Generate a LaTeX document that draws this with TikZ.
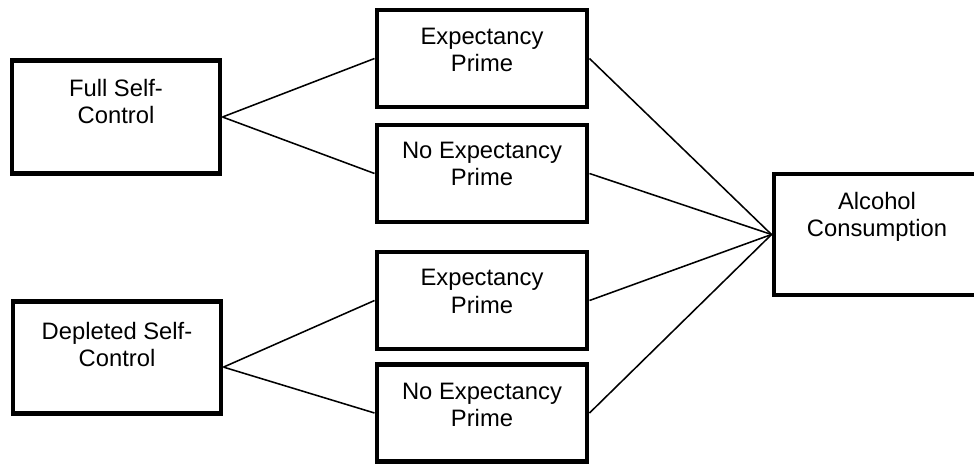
\documentclass[tikz,border=0pt]{standalone}
\usepackage{fontspec}
\setmainfont{Liberation Sans}
\usepackage{xcolor}
\definecolor{boxline}{rgb}{0,0,0}
\usepackage{tikz}
\usetikzlibrary{positioning}

\begin{document}
\begin{tikzpicture}[x=0.025cm, y=-0.025cm,
  box/.style={draw=boxline, line width=3.5pt, rectangle, inner sep=0pt},
  leftbox/.style={box, minimum width=5.2cm, minimum height=2.82cm},
  midbox/.style={box, minimum width=5.25cm, minimum height=2.425cm},
  lbl/.style={align=center, inner sep=0pt, font=\fontsize{16.9}{19.3}\selectfont},
  link/.style={draw=boxline, line width=1.1pt}]
\clip (0,0) rectangle (974,467);
% self-control conditions
\node[leftbox] (full) at (116,117) {};
\node[lbl] (fullt) at (116,101.5) {Full Self-\\Control};
\node[leftbox] (depl) at (117,357.5) {};
\node[lbl] (deplt) at (117,344.5) {Depleted Self-\\Control};
% prime conditions
\node[midbox] (ep1) at (482,58.5) {};
\node[lbl] (ep1t) at (482,50) {Expectancy\\Prime};
\node[midbox] (nep1) at (482,173.5) {};
\node[lbl] (nep1t) at (482,164) {No Expectancy\\Prime};
\node[midbox] (ep2) at (482,300.5) {};
\node[lbl] (ep2t) at (482,291.5) {Expectancy\\Prime};
\node[midbox] (nep2) at (482,413) {};
\node[lbl] (nep2t) at (482,405) {No Expectancy\\Prime};
% outcome (runs off the right edge)
\node[box, minimum width=5.3cm, minimum height=3.025cm] (alc) at (880,234.5) {};
\node[lbl] (alct) at (877,216.5) {Alcohol\\Consumption};
% links
\draw[link] (full.east) -- (ep1.west);
\draw[link] (full.east) -- (nep1.west);
\draw[link] ([yshift=-0.24cm]depl.east) -- (ep2.west);
\draw[link] ([yshift=-0.24cm]depl.east) -- (nep2.west);
\draw[link] (ep1.east) -- (alc.west);
\draw[link] (nep1.east) -- (alc.west);
\draw[link] (ep2.east) -- (alc.west);
\draw[link] (nep2.east) -- (alc.west);
\end{tikzpicture}
\end{document}
